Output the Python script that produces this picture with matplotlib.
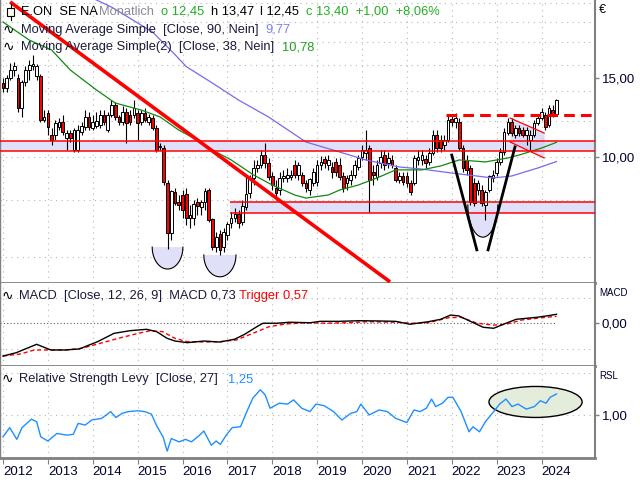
import numpy as np
import matplotlib
matplotlib.use("Agg")
import matplotlib.pyplot as plt
from matplotlib.patches import Ellipse, Rectangle
from matplotlib.ticker import NullLocator

plt.rcParams['font.family'] = ['Liberation Sans', 'DejaVu Sans']

# monthly candles, index 0 = Jan 2012 ... 148 = May 2024
years = list(range(2012, 2025))

opens = [14.61, 14.25, 15.00, 15.62, 15.00, 12.86, 14.69, 15.62, 15.95, 15.15, 15.15, 12.09,
         12.53, 11.19, 11.19, 11.66, 11.97, 11.02, 11.31, 10.37, 10.37, 11.37, 11.66, 12.28,
         11.60, 11.72, 11.78, 12.40, 11.48, 12.40, 13.06, 12.28, 11.97, 12.60, 12.40, 12.40,
         12.53, 11.97, 12.53, 11.97, 12.21, 11.60, 10.53, 10.47, 8.75, 6.77, 8.32, 7.90,
         8.19, 8.23, 7.31, 7.31, 7.90, 7.74, 7.94, 8.44, 7.24, 6.30, 6.70, 6.30,
         6.70, 7.13, 7.31, 7.43, 7.17, 7.74, 8.32, 8.98, 9.45, 9.60, 10.10, 9.70,
         9.03, 8.53, 8.44, 8.98, 8.98, 9.03, 9.60, 9.12, 9.12, 8.75, 8.44, 8.75,
         8.80, 9.60, 9.90, 9.60, 9.50, 9.75, 9.60, 9.03, 8.75, 8.89, 9.12, 9.50,
         10.00, 10.21, 10.47, 9.26, 9.03, 9.70, 10.10, 9.70, 9.85, 9.45, 8.89, 9.07,
         9.03, 8.75, 8.75, 9.85, 9.85, 9.90, 9.75, 10.21, 11.19, 10.91, 10.63, 10.91,
         12.15, 11.97, 11.97, 10.47, 9.85, 9.45, 8.75, 8.44, 8.44, 7.82, 8.44, 8.98,
         9.21, 9.75, 10.26, 11.31, 11.97, 11.19, 11.60, 11.48, 11.19, 10.91, 11.19, 11.90,
         12.21, 12.40, 11.78, 12.72, 12.45]
closes = [14.25, 15.00, 15.62, 15.95, 12.86, 14.69, 15.62, 16.03, 16.11, 15.95, 12.09, 12.28,
          11.66, 10.91, 11.90, 11.97, 11.37, 11.31, 11.02, 11.48, 11.48, 11.72, 12.28, 11.66,
          11.97, 12.03, 12.40, 11.97, 12.40, 13.06, 12.28, 11.97, 12.60, 11.90, 11.97, 12.86,
          11.90, 12.53, 12.09, 12.28, 11.60, 10.37, 10.58, 8.80, 6.77, 8.36, 7.90, 7.82,
          7.62, 7.31, 7.39, 7.82, 7.78, 7.90, 8.36, 7.24, 6.30, 6.63, 6.21, 6.77,
          7.06, 7.31, 7.43, 7.13, 7.74, 8.23, 8.89, 9.45, 9.60, 10.10, 9.70, 9.03,
          8.66, 8.32, 8.98, 9.03, 9.12, 9.12, 9.12, 9.60, 8.75, 8.53, 8.89, 9.26,
          9.60, 9.75, 9.70, 9.85, 9.26, 9.26, 9.03, 8.53, 8.98, 9.12, 9.60, 9.95,
          10.37, 10.37, 8.89, 9.12, 9.60, 10.00, 9.60, 9.95, 9.60, 8.89, 9.03, 8.80,
          8.75, 8.36, 9.95, 10.00, 10.10, 9.70, 10.21, 11.19, 10.47, 10.47, 10.91, 12.09,
          11.97, 12.21, 10.47, 9.45, 9.36, 7.94, 7.90, 8.75, 7.90, 8.32, 9.03, 9.12,
          9.75, 10.26, 11.37, 11.97, 11.31, 11.60, 11.31, 11.19, 11.48, 11.19, 11.90, 12.21,
          12.60, 11.66, 12.86, 12.40, 13.40]
highs = [15.00, 15.23, 16.19, 16.28, 15.31, 14.84, 15.95, 16.44, 16.87, 16.11, 15.31, 12.72,
         12.72, 11.60, 12.09, 12.21, 12.40, 11.48, 11.48, 11.60, 11.78, 11.97, 12.72, 12.60,
         12.40, 12.60, 12.72, 12.72, 12.60, 13.39, 13.26, 12.40, 12.99, 12.86, 12.72, 13.39,
         12.72, 12.72, 12.86, 12.47, 12.40, 11.78, 10.74, 10.63, 8.89, 8.44, 8.53, 8.23,
         8.44, 8.53, 7.82, 8.02, 8.10, 8.02, 8.53, 8.53, 7.31, 6.81, 6.88, 6.95,
         7.17, 7.54, 7.70, 7.62, 8.02, 9.12, 9.12, 9.85, 9.85, 10.37, 10.74, 9.95,
         9.26, 8.89, 9.26, 9.36, 9.45, 9.36, 9.85, 9.75, 9.26, 8.89, 8.98, 9.45,
         9.85, 10.05, 10.05, 10.10, 9.75, 9.95, 9.95, 9.26, 9.12, 9.36, 9.85, 10.10,
         10.63, 11.48, 10.63, 9.60, 9.85, 10.37, 10.37, 10.26, 10.10, 9.60, 9.26, 9.26,
         9.26, 8.89, 10.10, 10.37, 10.37, 10.10, 10.47, 11.48, 11.48, 11.19, 11.19, 12.40,
         12.40, 12.53, 12.21, 10.63, 10.10, 9.60, 8.98, 8.89, 8.66, 8.44, 9.12, 9.36,
         9.95, 10.47, 11.60, 12.21, 12.21, 11.78, 11.78, 11.66, 11.66, 11.48, 12.09, 12.40,
         12.86, 12.60, 13.06, 13.06, 13.47]
lows = [13.96, 13.96, 14.84, 15.15, 12.60, 12.28, 14.39, 14.84, 15.62, 14.84, 11.97, 11.97,
        11.19, 10.63, 10.91, 11.48, 11.19, 10.37, 10.80, 10.26, 10.26, 11.19, 11.48, 11.48,
        11.48, 11.60, 11.60, 11.78, 11.37, 12.28, 12.09, 11.78, 11.78, 10.74, 11.78, 12.21,
        10.91, 11.78, 11.97, 11.78, 11.48, 10.26, 10.37, 8.66, 6.25, 6.53, 7.82, 7.62,
        7.31, 7.06, 6.95, 7.06, 7.43, 7.43, 7.62, 7.17, 6.21, 6.14, 6.05, 6.14,
        6.53, 6.95, 7.17, 6.95, 7.06, 7.62, 8.10, 8.66, 9.26, 9.45, 9.45, 8.89,
        8.44, 8.02, 8.23, 8.80, 8.80, 8.89, 8.98, 8.89, 8.62, 8.36, 8.23, 8.62,
        8.62, 9.36, 9.45, 9.36, 8.98, 9.07, 8.89, 8.36, 8.44, 8.66, 8.98, 9.36,
        9.85, 9.85, 7.54, 8.66, 8.89, 9.45, 9.36, 9.45, 9.45, 8.80, 8.75, 8.66,
        8.57, 8.23, 8.66, 9.60, 9.60, 9.45, 9.60, 10.10, 10.26, 10.26, 10.37, 10.80,
        11.72, 11.60, 10.37, 9.26, 9.12, 7.82, 7.78, 8.23, 7.78, 7.24, 8.36, 8.80,
        9.07, 9.60, 10.10, 11.19, 11.14, 11.02, 11.14, 11.08, 10.63, 10.37, 11.08, 11.78,
        12.09, 11.48, 11.66, 12.28, 12.45]

# moving averages
sma90_idx = [0, 25, 29, 40, 46, 49, 56, 63, 71, 81, 90, 97, 106, 112, 120, 131, 136, 143, 148]
sma90_val = [28.0, 22.37, 21.58, 18.98, 16.9, 15.9, 14.61, 13.39, 12.28, 10.80, 10.26, 9.85,
             9.50, 9.40, 9.21, 8.98, 9.07, 9.45, 9.77]
sma38_idx = [0, 7, 13, 18, 25, 30, 37, 42, 47, 53, 55, 61, 67, 72, 78, 81, 87, 90, 95, 100,
             105, 112, 117, 122, 129, 135, 138, 144, 148]
sma38_val = [19.98, 18.22, 17.31, 15.62, 14.10, 13.19, 12.72, 12.28, 11.48, 10.80, 10.47, 9.85,
             9.12, 8.66, 8.23, 8.10, 8.23, 8.44, 8.66, 8.98, 9.36, 9.36, 9.55, 9.85, 9.75, 9.95,
             10.10, 10.47, 10.78]

# MACD panel
macd_idx = [0, 3.5, 9.0, 12.8, 16.6, 20.4, 25.3, 29.7, 34.0, 38.4, 41.1, 43.9, 46.0, 49.3, 53.7,
            58.0, 61.9, 64.6, 67.9, 69.5, 73.3, 76.6, 82.1, 84.8, 89.7, 95.2, 100.6, 105.0, 108.8,
            113.7, 117.0, 119.7, 121.9, 125.2, 128.4, 131.2, 134.5, 137.2, 142.7, 145.4, 148]
macd_val = [-2.58, -2.32, -1.65, -2.10, -2.10, -2.02, -1.44, -0.78, -0.57, -0.46, -0.65, -1.18,
            -1.39, -1.52, -1.39, -1.47, -1.25, -0.86, -0.25, 0.02, 0.02, 0.10, 0.06, 0.17, 0.17,
            0.22, 0.20, 0.17, -0.06, 0.14, 0.33, 0.67, 0.60, 0.14, -0.30, -0.38, 0.02, 0.33, 0.49,
            0.60, 0.73]
trig_idx = [0, 4.6, 8.4, 12.8, 16.6, 21.0, 25.3, 30.8, 36.2, 39.4, 42.7, 46.0, 49.3, 53.7, 58.0,
            62.4, 66.8, 71.2, 75.5, 80.9, 86.5, 91.9, 97.4, 105.0, 109.4, 113.7, 119.2, 122.5,
            126.8, 131.2, 134.5, 138.8, 144.2, 148]
trig_val = [-2.58, -2.42, -2.10, -2.10, -2.10, -1.97, -1.63, -1.18, -0.78, -0.57, -0.65, -1.18,
            -1.44, -1.47, -1.44, -1.31, -0.78, -0.25, -0.04, 0.06, 0.02, 0.06, 0.14, 0.10, 0.02,
            0.06, 0.46, 0.49, 0.02, -0.13, -0.06, 0.28, 0.46, 0.57]

# Relative Strength Levy panel
rsl_idx = [0, 1.8, 3.7, 5.1, 7.6, 9.0, 10.1, 12.0, 14.4, 17.1, 18.8, 20.1, 22.0, 23.7, 26.4, 28.8,
           30.2, 31.9, 33.5, 36.0, 37.9, 39.7, 41.1, 42.8, 43.9, 45.0, 47.1, 48.8, 50.4, 52.6,
           53.7, 55.7, 57.0, 58.1, 59.7, 61.3, 63.5, 65.2, 66.8, 68.8, 70.1, 71.4, 73.9, 76.1,
           77.7, 79.9, 82.1, 83.7, 85.9, 88.4, 90.6, 93.0, 94.6, 95.7, 97.9, 100.6, 102.8, 105.0,
           108.0, 109.9, 111.5, 113.2, 114.6, 115.7, 117.5, 119.0, 120.3, 122.5, 124.6, 125.7,
           127.4, 129.0, 131.2, 132.8, 134.5, 136.1, 137.7, 139.9, 142.1, 143.7, 145.2, 146.3, 148]
rsl_val = [0.74, 0.85, 0.71, 0.85, 0.95, 0.92, 0.74, 0.69, 0.78, 0.76, 0.77, 0.90, 0.88, 0.94,
           0.96, 1.04, 0.97, 1.02, 1.04, 1.05, 1.04, 1.01, 0.87, 0.74, 0.57, 0.72, 0.68, 0.71,
           0.68, 0.76, 0.81, 0.64, 0.69, 0.65, 0.76, 0.85, 0.86, 1.04, 1.20, 1.30, 1.24, 1.08,
           1.14, 1.13, 1.18, 1.08, 1.04, 1.13, 1.11, 1.04, 0.94, 1.02, 1.04, 1.13, 1.00, 1.06,
           1.04, 0.96, 0.91, 1.06, 1.04, 1.08, 1.19, 1.10, 1.14, 1.21, 1.21, 1.04, 0.80, 0.86,
           0.80, 0.92, 1.04, 1.13, 1.19, 1.10, 1.13, 1.07, 1.10, 1.17, 1.14, 1.21, 1.25]

# drawn objects (month index, price)
trend_line = ([1.9, 103.5], [22.15, 5.27])
band_upper = (10.31, 10.86)
band_lower = (7.50, 7.94)
band_lower_start = 60.7
resist_dash = (118.4, 12.40)
pennant_x = [135.6, 144.7]
pennant_top = [12.21, 11.31]
pennant_bot = [10.80, 9.95]
v_left = ([120.0, 126.7], [10.10, 6.21])
v_right = ([129.7, 136.9], [6.21, 10.53])
cups = [(44.0, 4.1, 6.30, 5.63), (58.0, 4.3, 6.05, 5.41), (128.3, 4.0, 7.82, 6.63)]

LAV = '#e0e0f8'
GRID = '#b8b8b8'
SPINE = '#808080'
W, H = 640, 480


def box(x0, y0, x1, y1):
    return [x0 / W, 1 - y1 / H, (x1 - x0) / W, (y1 - y0) / H]


fig = plt.figure(figsize=(6.4, 4.8), dpi=100)
ax = fig.add_axes(box(0, 0, 595, 283))
axm = fig.add_axes(box(0, 283, 595, 366), sharex=ax)
axr = fig.add_axes(box(0, 366, 595, 458), sharex=ax)

ax.set_yscale('log')
ax.set_ylim(5.24, 22.37)
ax.set_xlim(-0.8, 158.3)
axm.set_ylim(-3.37, 3.21)
axr.set_ylim(0.488, 1.583)

for a in (ax, axm, axr):
    for s in a.spines.values():
        s.set_color(SPINE)
        s.set_linewidth(1.0)
    a.spines['bottom'].set_linewidth(2.0)
    a.spines['right'].set_linewidth(1.5)
    a.spines['top'].set_visible(False)
    a.yaxis.tick_right()
    a.yaxis.set_minor_locator(NullLocator())
    a.tick_params(axis='y', length=3, width=1, color=SPINE, labelsize=9.5,
                  labelcolor='#000030', pad=2)
    a.tick_params(axis='x', bottom=False, labelbottom=False)
    for k in range(len(years)):
        a.axvline(12 * k, color=GRID, lw=0.8, ls=(0, (1, 4)), zorder=0)

# price panel
for g in [6, 8, 10, 12, 14, 16, 18, 20, 22]:
    ax.axhline(g, color=GRID, lw=0.8, ls=(0, (1, 4)), zorder=0)
ax.set_yticks([10, 15])
ax.set_yticklabels(['10,00', '15,00'])

ax.axhspan(band_upper[0], band_upper[1], color=LAV, zorder=0.5, lw=0)
ax.axhline(band_upper[0], color='red', lw=1.1, zorder=4)
ax.axhline(band_upper[1], color='red', lw=1.1, zorder=4)
ax.fill_between([band_lower_start, 160], band_lower[0], band_lower[1], color=LAV, zorder=0.5, lw=0)
ax.hlines(list(band_lower), band_lower_start, 160, color='red', lw=1.1, zorder=4)

for cx, hw, top, bot in cups:
    t = np.linspace(0, np.pi, 60)
    xs = cx + hw * np.cos(t)
    ys = np.exp(np.log(top) - (np.log(top) - np.log(bot)) * np.sin(t))
    ax.fill(xs, ys, color=LAV, lw=0, zorder=0.6)
    ax.plot(xs, ys, color='black', lw=0.8, zorder=4)

ax.fill_between(pennant_x, pennant_bot, pennant_top, color='#c8c8f0', alpha=0.6, lw=0, zorder=0.7)

x = np.arange(len(closes))
o = np.array(opens)
c = np.array(closes)
up = c >= o
ax.vlines(x, lows, highs, color='black', lw=0.8, zorder=2)
ax.bar(x, np.abs(c - o) + 0.02, bottom=np.minimum(o, c), width=0.72,
       color=np.where(up, 'white', '#ff0000'), edgecolor='black', linewidth=0.7, zorder=3)

ax.plot(sma90_idx, sma90_val, color='#7b68ee', lw=0.9, zorder=3.5)
ax.plot(sma38_idx, sma38_val, color='#108a10', lw=0.9, zorder=3.5)

ax.plot(trend_line[0], trend_line[1], color='#ff0000', lw=2.6, zorder=5, solid_capstyle='butt')
ax.hlines(resist_dash[1], resist_dash[0], 160, color='#ff0000', lw=2.2, linestyles=(0, (3.5, 2)),
          zorder=5)
ax.plot(pennant_x, pennant_top, color='#ff0000', lw=0.9, zorder=5)
ax.plot(pennant_x, pennant_bot, color='#ff0000', lw=0.9, zorder=5)
ax.plot(v_left[0], v_left[1], color='black', lw=2.0, zorder=5)
ax.plot(v_right[0], v_right[1], color='black', lw=2.0, zorder=5)

# MACD panel
for g in [-2, 2]:
    axm.axhline(g, color=GRID, lw=0.8, ls=(0, (1, 4)), zorder=0)
axm.hlines(0, -0.8, 148, color='#606060', lw=0.8, linestyles=(0, (1, 2)), zorder=1)
axm.plot(macd_idx, macd_val, color='black', lw=1.0, zorder=3)
axm.plot(trig_idx, trig_val, color='#ff0000', lw=1.0, ls=(0, (3, 2)), zorder=2)
axm.set_yticks([0])
axm.set_yticklabels(['0,00'])

# RSL panel
for g in [0.5, 1.0, 1.5]:
    axr.axhline(g, color=GRID, lw=0.8, ls=(0, (1, 4)), zorder=0)
axr.add_patch(Ellipse((142.4, 1.155), 24.9, 0.369, facecolor='#e4eddc', edgecolor='black',
                      lw=1.0, zorder=1))
axr.plot(rsl_idx, rsl_val, color='#1e90ff', lw=1.0, zorder=3)
axr.set_yticks([1.0])
axr.set_yticklabels(['1,00'])

axr.set_xticks([12 * k for k in range(len(years))])
axr.set_xticklabels([str(y) for y in years], ha='left')
axr.tick_params(axis='x', bottom=True, labelbottom=True, length=4, color=SPINE,
                labelsize=9.5, pad=2, labelcolor='#000030')


# header texts
def ftext(px, py, s, color='#1a1a3a', size=9.25, **kw):
    fig.text(px / W, 1 - py / H, s, color=color, fontsize=size, va='center', ha='left', **kw)


fig.add_artist(Rectangle((7 / W, 1 - 16 / H), 7 / W, 8 / H, facecolor='#fffff0',
                         edgecolor='black', lw=0.8, transform=fig.transFigure))
fig.add_artist(plt.Line2D([10.5 / W, 10.5 / W], [1 - 4 / H, 1 - 8 / H], color='black', lw=0.8))
fig.add_artist(plt.Line2D([10.5 / W, 10.5 / W], [1 - 16 / H, 1 - 20 / H], color='black', lw=0.8))
ftext(21, 12, 'E.ON  SE NA', color='black')
ftext(99, 12, 'Monatlich', color='#8a8a9a')
ftext(161, 12, 'o 12,45', color='#20b020')
ftext(211, 12, 'h 13,47', color='black')
ftext(260, 12, 'l 12,45', color='black')
ftext(306, 12, 'c 13,40  +1,00  +8,06%', color='#20b020')

for py in (30, 47):
    ftext(3, py, '\u223f', color='black', size=10, family=['DejaVu Sans'])
ftext(21, 30, 'Moving Average Simple  [Close, 90, Nein]')
ftext(265, 30, '9,77', color='#8080f0')
ftext(21, 47, 'Moving Average Simple(2)  [Close, 38, Nein]')
ftext(282, 47, '10,78', color='#20a020')

ftext(2, 296, '\u223f', color='black', size=10, family=['DejaVu Sans'])
ftext(19, 296, 'MACD  [Close, 12, 26, 9]  MACD 0,73')
ftext(239, 296, 'Trigger 0,57', color='#ff0000')
ftext(2, 379, '\u223f', color='black', size=10, family=['DejaVu Sans'])
ftext(19, 379, 'Relative Strength Levy  [Close, 27]')
ftext(228, 379, '1,25', color='#1e90ff')

ftext(599, 10, '\u20ac', color='black', size=9)
ftext(599, 293, 'MACD', color='#000030', size=7)
ftext(599, 376, 'RSL', color='#000030', size=7)

fig.savefig('out.png', dpi=100)
